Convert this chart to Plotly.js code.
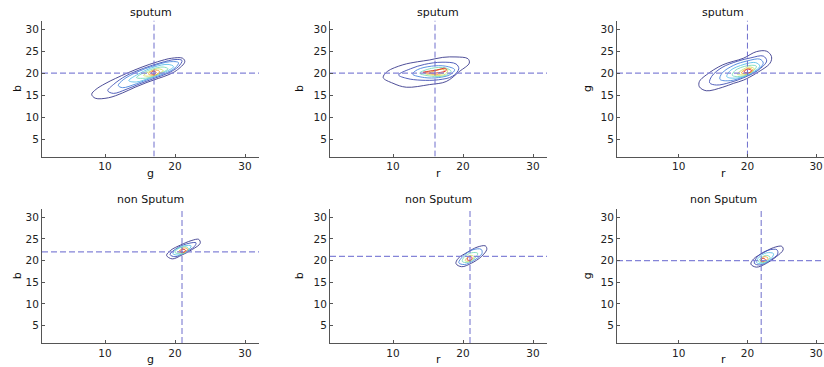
<!DOCTYPE html>
<html><head><meta charset="utf-8">
<script src="https://cdn.plot.ly/plotly-3.0.1.min.js"></script>
<style>body{margin:0;background:#fff}#chart{width:824px;height:367px}</style>
</head><body><div id="chart"></div>
<script>
// ---------- data ----------
const panelTitles = ['sputum','sputum','sputum','non Sputum','non Sputum','non Sputum'];
const xLabels = ['g','r','r','g','r','r'];
const yLabels = ['b','b','g','b','b','g'];
const crossX = [17,16,20,21,21,22];
const crossY = [20,20,20,22,21,20];
const xTickVals = [10,20,30];
const yTickVals = [5,10,15,20,25,30];
const axisRange = [1,32];

// contour lines (outer level first)
const sputumGBx = [
  [8.1,8.6,10.5,12.5,14.3,16.0,17.6,19.0,20.2,21.4,21.1,19.5,17.5,15.3,13.3,11.5,10.0,8.7,8.1],
  [10.4,11.2,13.0,15.0,17.0,19.0,20.5,21.0,20.0,18.0,15.5,13.0,11.2,10.4],
  [11.9,12.5,14.5,16.5,18.5,20.0,20.5,19.2,17.0,14.5,12.6,11.9],
  [13.4,14.5,16.5,18.5,19.8,19.0,17.0,15.0,13.4],
  [14.5,16.0,17.5,19.0,18.3,16.5,14.5],
  [15.5,16.8,18.3,17.5,15.5],
  [16.2,17.2,17.8,17.0,16.2],
  [16.6,17.1,17.3,16.8,16.6]
];
const sputumGBy = [
  [15.2,14.3,14.4,15.5,16.8,17.9,18.8,19.6,20.6,22.6,23.4,23.4,22.6,21.4,20.1,18.8,17.6,16.3,15.2],
  [16.0,15.4,16.3,17.6,18.8,20.0,21.5,22.9,23.1,22.4,21.1,19.4,17.4,16.0],
  [17.2,16.7,17.6,18.8,19.9,21.2,22.4,22.6,21.7,20.2,18.5,17.2],
  [18.3,18.0,19.0,20.2,21.5,22.0,21.4,20.0,18.3],
  [19.0,18.9,19.7,21.0,21.4,20.8,19.0],
  [19.5,19.4,20.6,21.0,19.5],
  [19.8,19.6,20.4,20.7,19.8],
  [19.9,19.8,20.2,20.4,19.9]
];
const sputumRBx = [
  [8.6,9.2,11.4,13.5,15.2,17.1,19.0,20.7,20.9,19.5,17.6,15.2,11.9,10.0,8.6],
  [10.8,12.0,14.0,16.5,18.5,19.4,19.0,17.0,14.5,12.5,10.8],
  [12.8,14.5,16.5,18.2,18.8,17.5,15.5,13.5,12.8],
  [13.8,15.5,17.3,18.3,17.5,15.5,13.8],
  [14.5,16.0,17.5,17.8,16.0,14.5],
  [15.2,16.2,17.3,17.2,16.0,15.2],
  [14.3,15.5,16.5,17.6,17.5,16.2,14.3]
];
const sputumRBy = [
  [19.0,20.4,21.9,22.6,23.0,23.6,23.7,23.3,22.3,20.4,18.1,17.4,16.8,17.7,19.0],
  [19.6,18.8,18.4,18.5,19.3,21.0,22.1,22.5,22.0,21.0,19.6],
  [19.8,19.0,19.0,19.7,20.8,21.6,21.6,20.8,19.8],
  [20.0,19.3,19.4,20.4,21.2,21.1,20.0],
  [20.0,19.5,19.8,20.8,20.7,20.0],
  [20.0,19.7,20.2,20.9,20.5,20.0],
  [20.2,20.0,20.1,20.6,21.1,20.7,20.2]
];
const sputumRGx = [
  [13.0,14.0,16.4,18.0,19.4,21.3,23.3,23.5,22.8,21.3,19.4,16.4,14.0,13.0,13.0],
  [14.5,15.5,17.5,19.5,21.5,22.8,22.3,20.5,18.5,16.3,14.8,14.5],
  [16.0,17.5,19.5,21.3,22.3,21.8,20.0,18.0,16.3,16.0],
  [17.0,18.5,20.3,21.8,21.2,19.5,17.5,17.0],
  [17.8,19.2,20.8,21.3,20.0,18.2,17.8],
  [18.5,19.8,21.0,20.2,18.5],
  [19.1,20.0,20.8,20.2,19.1],
  [19.5,20.2,20.6,20.0,19.5]
];
const sputumRGy = [
  [16.9,16.0,16.8,17.7,18.4,20.0,22.3,23.8,25.0,24.9,23.4,21.9,19.6,18.1,16.9],
  [17.8,17.3,17.9,19.0,20.6,22.8,23.9,23.5,22.7,21.3,19.3,17.8],
  [18.6,18.3,19.2,20.5,22.3,23.2,22.8,21.8,20.0,18.6],
  [19.2,18.9,19.8,21.6,22.4,22.0,20.6,19.2],
  [19.5,19.3,20.4,21.6,21.7,20.6,19.5],
  [19.8,19.7,21.0,21.4,19.8],
  [20.1,19.9,20.7,21.1,20.1],
  [20.3,20.1,20.6,20.9,20.3]
];
const nonGBx = [
  [18.8,19.6,21.0,22.5,23.6,23.4,22.3,20.8,19.4,18.8],
  [19.3,20.0,21.3,22.8,23.0,22.0,20.5,19.3],
  [19.7,20.5,21.8,22.3,21.3,20.0,19.7],
  [20.0,21.0,22.0,21.6,20.4,20.0],
  [20.5,21.3,21.8,21.2,20.5],
  [20.8,21.3,21.5,21.0,20.8]
];
const nonGBy = [
  [21.2,20.4,21.3,22.6,24.0,24.9,24.6,23.6,22.4,21.2],
  [21.4,20.9,21.8,23.3,24.1,24.0,23.1,21.4],
  [21.6,21.3,22.3,23.4,23.4,22.4,21.6],
  [21.9,21.6,22.6,23.2,22.7,21.9],
  [22.0,21.9,22.7,22.9,22.0],
  [22.0,22.0,22.4,22.6,22.0]
];
const nonRBx = [
  [19.0,19.8,21.2,22.6,23.4,23.2,22.0,20.6,19.3,19.0],
  [19.4,20.2,21.5,22.7,22.6,21.4,20.0,19.4],
  [19.9,20.7,21.7,22.1,21.2,20.2,19.9],
  [20.3,21.0,21.6,21.0,20.3],
  [20.6,21.1,21.3,20.8,20.6]
];
const nonRBy = [
  [19.3,18.6,19.4,20.9,22.6,23.4,23.1,21.9,20.5,19.3],
  [19.5,19.1,20.0,21.6,22.6,22.5,21.0,19.5],
  [19.8,19.6,20.6,21.7,21.8,20.9,19.8],
  [20.0,19.9,20.9,21.2,20.0],
  [20.2,20.1,20.7,20.9,20.2]
];
const nonRGx = [
  [20.5,21.3,22.8,24.2,25.2,25.0,23.8,22.3,20.9,20.5],
  [21.0,21.8,23.2,24.4,24.3,23.0,21.5,21.0],
  [21.3,22.2,23.4,23.8,22.8,21.7,21.3],
  [21.6,22.5,23.3,22.6,21.6],
  [21.9,22.5,23.0,22.4,21.9],
  [22.0,22.4,22.6,22.2,22.0]
];
const nonRGy = [
  [19.2,18.5,19.4,20.9,22.5,23.3,23.0,21.8,20.4,19.2],
  [19.4,19.0,20.0,21.5,22.5,22.4,21.0,19.4],
  [19.6,19.3,20.4,21.6,21.8,20.8,19.6],
  [19.8,19.6,20.8,21.2,19.8],
  [19.9,19.8,20.6,20.9,19.9],
  [20.0,19.9,20.3,20.5,20.0]
];

// ---------- build ----------
const contourX = [sputumGBx, sputumRBx, sputumRGx, nonGBx, nonRBx, nonRGx];
const contourY = [sputumGBy, sputumRBy, sputumRGy, nonGBy, nonRBy, nonRGy];
const palette = ['#3a3a8c','#3f4fb4','#4a86dc','#5cc2ea','#7cdcb8','#cfe064','#f2a638','#e02828'];

const W = 824, H = 367;
const colPx = [[42,259],[330,547],[617,824]];
const colRange = [[1,32],[1,32],[1,31.15]];
const rowPx = [[20.5,156.6],[208.6,343.0]];
const yLabelPx = [17.5, 299.5, 587.5];
const rowTitlePy = [12, 199];

const fontFam = 'DejaVu Sans, Arial, sans-serif';
const traces = [];
const layout = {
  width: W, height: H, margin: {l:0,r:0,t:0,b:0},
  paper_bgcolor: '#fff', plot_bgcolor: '#fff',
  showlegend: false, annotations: []
};

for (let p = 0; p < 6; p++) {
  const col = p % 3, row = Math.floor(p / 3);
  const n = p + 1;
  const xa = 'x' + (n === 1 ? '' : n), ya = 'y' + (n === 1 ? '' : n);
  const xk = 'xaxis' + (n === 1 ? '' : n), yk = 'yaxis' + (n === 1 ? '' : n);
  const axCommon = {
    showline: true, linecolor: '#555', linewidth: 1, ticks: 'inside', ticklen: 3,
    tickcolor: '#555', tickfont: {family: fontFam, size: 10.5, color: '#222'},
    showgrid: false, zeroline: false, fixedrange: true
  };
  layout[xk] = Object.assign({}, axCommon, {
    domain: [colPx[col][0]/W, colPx[col][1]/W], range: colRange[col],
    tickvals: xTickVals, anchor: ya
  });
  layout[yk] = Object.assign({}, axCommon, {
    domain: [(H-rowPx[row][1])/H, (H-rowPx[row][0])/H], range: axisRange,
    tickvals: yTickVals, anchor: xa
  });

  const lx = contourX[p], ly = contourY[p];
  const nl = lx.length;
  for (let i = 0; i < nl; i++) {
    const ci = nl === 1 ? 0 : Math.round(i * (palette.length - 1) / (nl - 1));
    traces.push({
      type: 'scatter', mode: 'lines', x: lx[i], y: ly[i], xaxis: xa, yaxis: ya,
      line: {color: palette[ci], width: 0.9, shape: 'spline', smoothing: 1},
      hoverinfo: 'skip'
    });
  }
  // crosshair
  traces.push({type:'scatter', mode:'lines', x: colRange[col], y: [crossY[p], crossY[p]],
    xaxis: xa, yaxis: ya, line: {color:'#8484d8', width: 1.2, dash: '6px,3px'}, hoverinfo:'skip'});
  traces.push({type:'scatter', mode:'lines', x: [crossX[p], crossX[p]], y: axisRange,
    xaxis: xa, yaxis: ya, line: {color:'#6e6ecc', width: 1, dash: '6px,3px'}, hoverinfo:'skip'});

  const cx = (colPx[col][0] + colPx[col][0] + (colRange[col][1] > 31.5 ? (colPx[col][1]-colPx[col][0]) : 212)) / 2;
  layout.annotations.push({
    text: panelTitles[p], xref:'paper', yref:'paper', x: cx/W, y: (H-rowTitlePy[row])/H,
    xanchor:'center', yanchor:'middle', showarrow:false, font:{family:fontFam, size:11, color:'#111'}
  });
  const xlab = row === 0
    ? {y: (H-173)/H, yanchor: 'middle'}
    : {y: 0, yanchor: 'bottom'};
  layout.annotations.push(Object.assign({
    text: xLabels[p], xref:'paper', yref:'paper', x: cx/W,
    xanchor:'center', showarrow:false, borderpad: 0, font:{family:fontFam, size:11, color:'#111'}
  }, xlab));
  layout.annotations.push({
    text: yLabels[p], xref:'paper', yref:'paper', x: yLabelPx[col]/W,
    y: (H-(rowPx[row][0]+rowPx[row][1])/2)/H, textangle: -90,
    xanchor:'center', yanchor:'middle', showarrow:false, font:{family:fontFam, size:11, color:'#111'}
  });
}

Plotly.newPlot('chart', traces, layout, {staticPlot: true, displayModeBar: false});
</script>
</body></html>
